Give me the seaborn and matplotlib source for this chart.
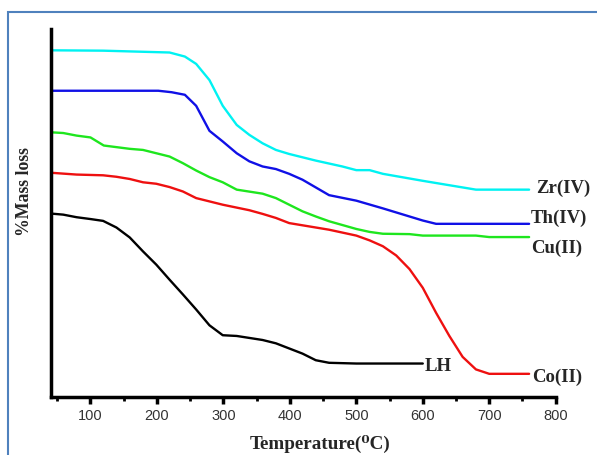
import matplotlib
matplotlib.use("Agg")
import matplotlib.pyplot as plt
from matplotlib.patches import Rectangle
from matplotlib.ticker import MultipleLocator
import seaborn as sns
import pandas as pd

# TGA curves (temperature in C, relative mass, arbitrary scale 0-100)
zr_t = [40, 119, 219, 242, 259, 279, 299, 320, 339, 359, 379, 399, 439, 479, 500, 520, 540, 600, 680, 760]
zr_m = [94.3, 94.2, 93.7, 92.6, 90.6, 86.2, 79.2, 74.0, 71.3, 69.0, 67.2, 66.1, 64.3, 62.7, 61.7, 61.7, 60.7, 58.8, 56.4, 56.4]

th_t = [40, 202, 222, 242, 259, 279, 299, 320, 339, 359, 379, 399, 419, 439, 459, 500, 540, 580, 600, 620, 760]
th_m = [83.3, 83.3, 82.9, 82.2, 79.2, 72.4, 69.5, 66.3, 64.1, 62.7, 62.0, 60.7, 59.1, 57.0, 54.9, 53.4, 51.3, 49.1, 48.0, 47.1, 47.1]

cu_t = [40, 59, 79, 100, 120, 159, 179, 199, 219, 239, 259, 279, 299, 320, 359, 379, 399, 419, 439, 459,
        500, 520, 540, 580, 600, 680, 700, 760]
cu_m = [72.0, 71.8, 71.1, 70.6, 68.4, 67.5, 67.2, 66.3, 65.4, 63.6, 61.6, 59.8, 58.4, 56.4, 55.3, 54.1,
        52.3, 50.5, 49.1, 47.8, 45.7, 44.9, 44.4, 44.3, 43.9, 43.9, 43.5, 43.5]

co_t = [40, 79, 119, 139, 159, 179, 199, 219, 239, 259, 279, 299, 339, 359, 379, 399, 419, 459, 500, 520,
        540, 560, 580, 600, 620, 640, 660, 680, 700, 760]
co_m = [61.0, 60.5, 60.3, 59.9, 59.3, 58.4, 58.0, 57.1, 55.9, 54.1, 53.2, 52.3, 50.8, 49.8, 48.7, 47.3,
        46.7, 45.5, 43.9, 42.6, 41.0, 38.5, 34.8, 29.7, 22.9, 16.6, 10.9, 7.5, 6.3, 6.3]

lh_t = [40, 59, 79, 100, 119, 139, 159, 179, 199, 219, 239, 259, 279, 299, 320, 359, 379, 399, 419, 439,
        459, 500, 600]
lh_m = [49.9, 49.6, 48.9, 48.4, 47.9, 46.1, 43.4, 39.6, 36.0, 31.9, 27.9, 23.8, 19.5, 16.8, 16.6, 15.5,
        14.6, 13.2, 11.8, 10.0, 9.3, 9.1, 9.1]

series = [
    ("Zr(IV)", zr_t, zr_m, "#00f2f2", (771, 56.8)),
    ("Th(IV)", th_t, th_m, "#1010e6", (763, 48.5)),
    ("Cu(II)", cu_t, cu_m, "#1ee61e", (763, 40.3)),
    ("Co(II)", co_t, co_m, "#ee1010", (765, 5.4)),
    ("LH", lh_t, lh_m, "#000000", (603, 8.4)),
]

sns.set_style("white")
serif = ["Liberation Serif", "DejaVu Serif"]

fig = plt.figure(figsize=(5.97, 4.55), dpi=100)
ax = fig.add_axes([0.0848, 0.1275, 0.846, 0.808])

for name, t, m, col, pos in series:
    df = pd.DataFrame({"T": t, "mass": m})
    sns.lineplot(data=df, x="T", y="mass", color=col, lw=1.7, ax=ax, estimator=None, sort=False)
    ax.text(pos[0], pos[1], name, fontsize=13.5, fontweight="bold", family=serif,
            ha="left", va="center", clip_on=False)

ax.set_xlim(40, 800)
ax.set_ylim(0, 100)
ax.xaxis.set_major_locator(MultipleLocator(100))
ax.xaxis.set_minor_locator(MultipleLocator(50))
ax.set_yticks([])
for s in ["top", "right"]:
    ax.spines[s].set_visible(False)
for s in ["left", "bottom"]:
    ax.spines[s].set_linewidth(2.5)
    ax.spines[s].set_color("black")
ax.tick_params(axis="x", which="major", direction="out", length=5, width=2.5, color="black",
               labelsize=10.5, labelcolor="#333333", pad=3.5, bottom=True)
ax.tick_params(axis="x", which="minor", direction="out", length=3, width=2, color="black", bottom=True)
for lab in ax.get_xticklabels():
    lab.set_family("Liberation Sans")

ax.set_xlabel("Temperature(\u2070C)", fontsize=13.8, fontweight="bold", family=serif)
ax.set_ylabel("%Mass loss", fontsize=12.8, fontweight="bold", family=serif)
ax.xaxis.set_label_coords(0.533, -0.104)
ax.yaxis.set_label_coords(-0.034, 0.558)

# light blue frame around the figure
fig.patches.append(Rectangle((8.3 / 597, -0.1), 1.2, (455 - 12.3) / 455 + 0.1,
                             transform=fig.transFigure, fill=False,
                             edgecolor="#4f81bd", lw=1.5))

fig.savefig("out.png", dpi=100)
